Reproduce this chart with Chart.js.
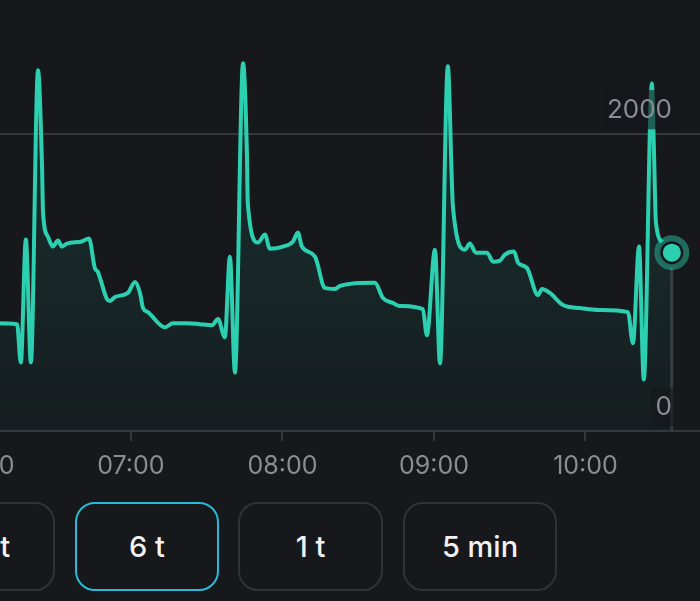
<!DOCTYPE html>
<html>
<head>
<meta charset="utf-8">
<script src="https://cdn.jsdelivr.net/npm/chart.js@4"></script>
<style>
  html, body { margin: 0; padding: 0; background: #16181c; overflow: hidden; width: 700px; height: 601px; }
  #wrap { position: absolute; left: -60px; top: 0; width: 760px; height: 490px; }
  .btn {
    position: absolute; top: 502px; height: 89px; box-sizing: border-box;
    border: 2px solid #303338; border-radius: 20px;
    display: flex; align-items: center; justify-content: center;
    font-family: Inter, "Noto Sans", sans-serif; font-size: 29px; font-weight: 500; color: #f2f2f2;
  }
  .btn.active { border-color: #2bbad6; }
</style>
</head>
<body>
<div id="wrap"><canvas id="chart"></canvas></div>
<div id="buttons"></div>
<script>
// minutes since midnight
const times = [360, 366.1, 374.9, 376.4, 378.4, 380.4, 383.2, 384.8, 385.2, 387.1, 389.1, 391.1, 392.7, 394.7,
  400.6, 403.4, 405.7, 406.9, 410.5, 411.7, 413.7, 418.8, 421.6, 423.6, 424.8, 426.7, 433.5, 436.6, 442.2,
  447.3, 452.1, 454.5, 457.2, 459.2, 461.2, 464.4, 465.9, 466.3, 470.3, 473.1, 475.0, 480.2, 484.2, 486.1,
  487.7, 492.9, 496.8, 500.8, 502.8, 506.7, 516.6, 519.8, 523.8, 526.5, 535.6, 537.2, 540.4, 542.4, 545.5,
  547.1, 547.5, 552.3, 554.2, 556.6, 561.0, 563.4, 566.1, 568.1, 571.7, 573.3, 576.8, 581.2, 582.8, 585.9,
  591.1, 597.8, 605.7, 616.8, 618.8, 621.2, 623.1, 626.3, 627.1, 627.9, 630.7, 634.2];
const values = [725, 725, 719, 461, 1288, 461, 2427, 1783, 1471, 1309, 1241, 1281, 1241, 1261,
  1275, 1295, 1098, 1071, 888, 875, 902, 929, 1003, 929, 827, 800, 698, 725, 725,
  719, 712, 753, 631, 1173, 393, 2475, 1898, 1526, 1268, 1322, 1227, 1241, 1275, 1336,
  1241, 1173, 963, 956, 976, 990, 997, 895, 861, 841, 820, 644, 1220, 454, 2454,
  1675, 1512, 1220, 1261, 1200, 1200, 1139, 1146, 1187, 1207, 1132, 1098, 915, 956, 929,
  848, 827, 814, 800, 590, 1241, 346, 2339, 1898, 1403, 1268, 1200];
const xTicks = [360, 420, 480, 540, 600];
const yTicks = [0, 2000];
const ranges = ["24 t", "6 t", "1 t", "5 min"];
const activeRange = "6 t";

const lineColor = "#2cd0b0";
const lastT = times[times.length - 1];
const lastV = values[values.length - 1];

function fmtTime(m) {
  const h = Math.floor(m / 60);
  const mm = Math.round(m % 60);
  return String(h).padStart(2, "0") + ":" + String(mm).padStart(2, "0");
}

function noPadding(axis) {
  axis.paddingLeft = 0;
  axis.paddingRight = 0;
  axis.paddingTop = 0;
  axis.paddingBottom = 0;
}

// knapper under grafen
const btnPos = [[-89, 144], [75, 144], [238, 145], [403, 154]];
const btnBox = document.getElementById("buttons");
ranges.forEach((r, i) => {
  const b = document.createElement("div");
  b.className = "btn" + (r === activeRange ? " active" : "");
  b.style.left = btnPos[i][0] + "px";
  b.style.width = btnPos[i][1] + "px";
  b.textContent = r;
  btnBox.appendChild(b);
});

new Chart(document.getElementById("chart"), {
  type: "line",
  data: {
    datasets: [
      {
        // inner dot
        data: [{ x: lastT, y: lastV }],
        pointRadius: 9,
        pointBackgroundColor: lineColor,
        pointBorderWidth: 0,
        showLine: false,
      },
      {
        // ring round the dot
        data: [{ x: lastT, y: lastV }],
        pointRadius: 14.5,
        pointBackgroundColor: "#16181c",
        pointBorderColor: "rgba(44, 208, 176, 0.45)",
        pointBorderWidth: 6,
        showLine: false,
      },
      {
        data: times.map((t, i) => ({ x: t, y: values[i] })),
        borderColor: lineColor,
        borderWidth: 4,
        pointRadius: 0,
        cubicInterpolationMode: "monotone",
        borderJoinStyle: "round",
        borderCapStyle: "round",
        fill: "origin",
        backgroundColor: (ctx) => {
          const area = ctx.chart.chartArea;
          if (!area) return "rgba(44,208,176,0.08)";
          const g = ctx.chart.ctx.createLinearGradient(0, area.top, 0, area.bottom);
          g.addColorStop(0, "rgba(44,208,176,0.16)");
          g.addColorStop(1, "rgba(44,208,176,0.03)");
          return g;
        },
      },
      {
        // marker line under the current value
        data: [{ x: lastT, y: 0 }, { x: lastT, y: lastV }],
        borderColor: "#383b41",
        borderWidth: 3,
        pointRadius: 0,
        fill: false,
      },
    ],
  },
  options: {
    responsive: true,
    maintainAspectRatio: false,
    animation: false,
    layout: { padding: 0, autoPadding: false },
    plugins: { legend: { display: false }, tooltip: { enabled: false } },
    scales: {
      x: {
        type: "linear",
        min: 344.4,
        max: 645.35,
        afterBuildTicks: (axis) => { axis.ticks = xTicks.map((v) => ({ value: v })); },
        afterFit: (axis) => { axis.height = 59; noPadding(axis); },
        grid: { drawOnChartArea: false, drawTicks: true, tickLength: 10, color: "#34373c", lineWidth: 2 },
        border: { color: "#34373c", width: 2 },
        ticks: {
          autoSkip: false,
          maxRotation: 0,
          padding: 10,
          color: "#8a8d92",
          font: { family: "Inter", size: 25 },
          callback: (v) => fmtTime(v),
        },
      },
      y: {
        position: "right",
        min: 0,
        max: 2900,
        afterBuildTicks: (axis) => { axis.ticks = yTicks.map((v) => ({ value: v })); },
        afterFit: (axis) => { axis.width = 0; noPadding(axis); },
        grid: { drawTicks: false, color: "#34373c", lineWidth: 2 },
        border: { display: false },
        ticks: {
          mirror: true,
          padding: -28,
          labelOffset: -24,
          z: 1,
          color: "#8a8d92",
          font: { family: "Inter", size: 26 },
          showLabelBackdrop: true,
          backdropColor: "rgba(22,24,28,0.6)",
          backdropPadding: 4,
          callback: (v) => String(v),
        },
      },
    },
  },
});
</script>
</body>
</html>
